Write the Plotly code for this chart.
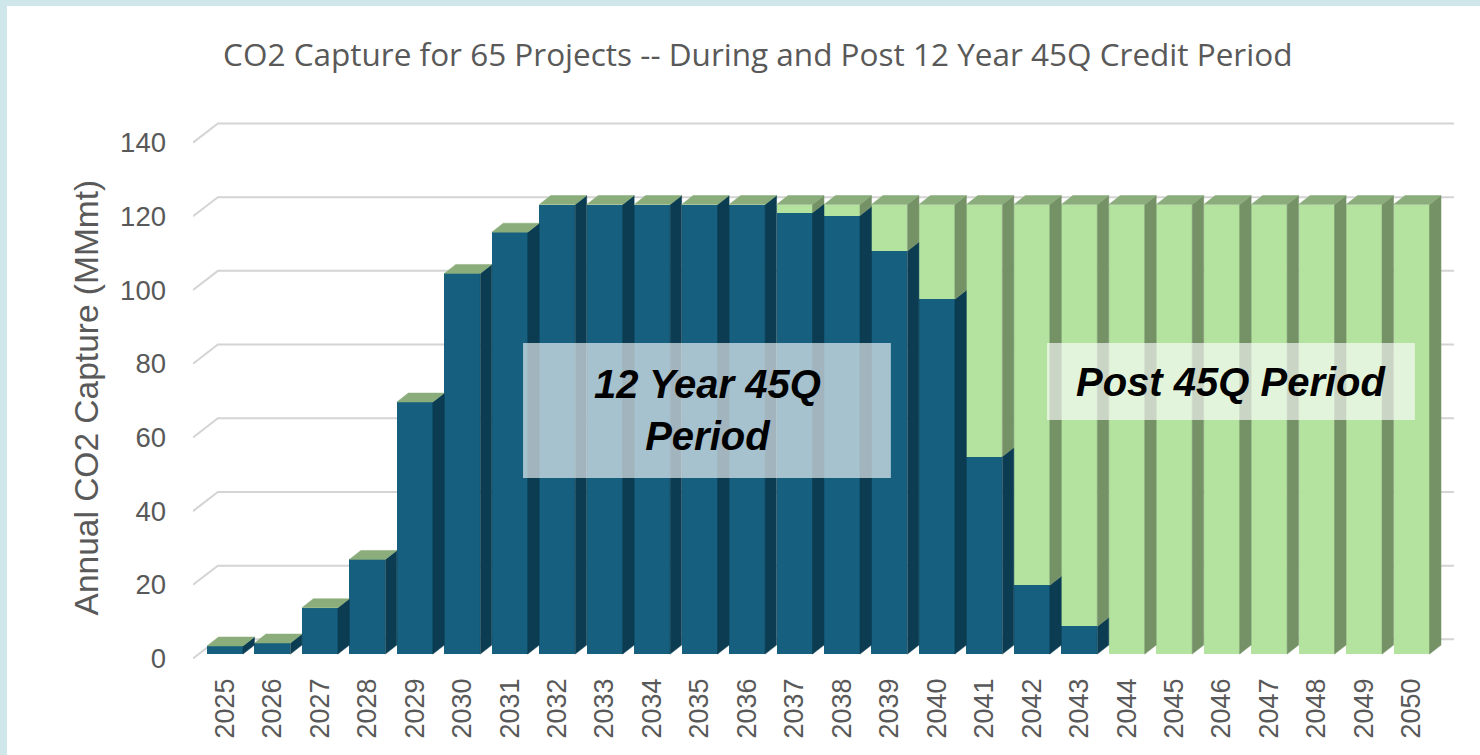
import plotly.graph_objects as go

years = list(range(2025, 2051))
# annual capture still inside the 12 year 45Q window (MMmt)
during_45q = [2.2, 3.0, 12.6, 25.7, 68.4, 103.3, 114.5, 122.0, 122.0, 122.0, 122.0, 122.0,
              119.8, 119.0, 109.4, 96.3, 53.6, 18.7, 7.5, 0, 0, 0, 0, 0, 0, 0]
# capture after the credit period has ended
post_45q = [0, 0, 0, 0, 0, 0, 0, 0, 0, 0, 0, 0,
            2.2, 3.0, 12.6, 25.7, 68.4, 103.3, 114.5, 122.0, 122.0, 122.0, 122.0, 122.0, 122.0, 122.0]
y_ticks = [0, 20, 40, 60, 80, 100, 120, 140]

DARK, DARK_SIDE = '#165f7f', '#0b3c51'
GREEN, GREEN_SIDE = '#b4e3a0', '#759166'
TOP = '#8aad7b'
GREY = '#595959'

W = 0.379            # half width of a bar front
DX, DY = 0.242, 2.44  # fake depth of the 3d columns

pos = list(range(len(years)))
totals = [a + b for a, b in zip(during_45q, post_45q)]


def side_faces(lo, hi):
    xs, ys = [], []
    for i, (a, b) in enumerate(zip(lo, hi)):
        if b <= a:
            continue
        r = i + W
        xs += [r, r + DX, r + DX, r, r, None]
        ys += [a, a + DY, b + DY, b, a, None]
    return xs, ys


def top_faces(h):
    xs, ys = [], []
    for i, t in enumerate(h):
        xs += [i - W, i + W, i + W + DX, i - W + DX, i - W, None]
        ys += [t, t, t + DY, t + DY, t, None]
    return xs, ys


def poly(xy, color):
    return go.Scatter(x=xy[0], y=xy[1], mode='lines', fill='toself', fillcolor=color,
                      line=dict(width=0.5, color=color), hoverinfo='skip', showlegend=False)


fig = go.Figure()
fig.add_trace(go.Bar(x=pos, y=during_45q, width=2 * W, marker=dict(color=DARK, line=dict(width=0)),
                     name='During 45Q', showlegend=False))
fig.add_trace(go.Bar(x=pos, y=post_45q, width=2 * W, marker=dict(color=GREEN, line=dict(width=0)),
                     name='Post 45Q', showlegend=False))
fig.add_trace(poly(side_faces([0] * len(pos), during_45q), DARK_SIDE))
fig.add_trace(poly(side_faces(during_45q, totals), GREEN_SIDE))
fig.add_trace(poly(top_faces(totals), TOP))

# back wall gridlines with the little diagonal to the front plane
x_lo, x_hi = -0.674, 25.895
for v in y_ticks:
    fig.add_shape(type='path', xref='x', yref='y', layer='below',
                  path=f'M {x_lo},{v - 1.2} L -0.15,{v + 4.0} L {x_hi},{v + 4.0}',
                  line=dict(color='#d4d4d4', width=2))

# white card on the light blue background
fig.add_shape(type='rect', xref='paper', yref='paper', layer='below',
              x0=-0.1475, x1=1.03, y0=-0.2, y1=1.168, fillcolor='white', line=dict(width=0))

# period labels
box_style = dict(type='rect', xref='x', yref='y', layer='above',
                 fillcolor='rgba(255,255,255,0.62)', line=dict(width=0))
fig.add_shape(x0=6.28, x1=14.03, y0=47.8, y1=84.4, **box_style)
fig.add_shape(x0=17.32, x1=25.07, y0=63.5, y1=84.4, **box_style)
lab_font = dict(family='Liberation Sans, Arial', size=40, color='black', weight='bold', style='italic')
fig.add_annotation(x=10.16, y=66.2, text='12 Year 45Q<br>Period', showarrow=False, font=lab_font)
fig.add_annotation(x=21.2, y=73.8, text='Post 45Q Period', showarrow=False, font=lab_font)

fig.add_annotation(xref='paper', yref='paper', x=-0.1007, y=0.468, textangle=-90,
                   text='Annual CO2 Capture (MMmt)', showarrow=False,
                   font=dict(family='Liberation Sans, Arial', size=33.5, color=GREY))

fig.update_layout(
    width=1480, height=755,
    margin=dict(l=193, r=26, t=100, b=95),
    paper_bgcolor='#cfe6eb', plot_bgcolor='white',
    barmode='stack', bargap=0,
    title=dict(text='CO2 Capture for 65 Projects -- During and Post 12 Year 45Q Credit Period',
               xref='container', x=0.512, xanchor='center', yref='container', y=0.927, yanchor='middle',
               font=dict(family='Open Sans', size=31.5, color=GREY)),
    xaxis=dict(range=[x_lo, x_hi], tickvals=pos, ticktext=[str(y) for y in years], tickangle=-90,
               showgrid=False, zeroline=False, showline=False, ticks='', ticklabelstandoff=12,
               tickfont=dict(family='Liberation Sans, Arial', size=27, color=GREY)),
    yaxis=dict(range=[-1.6, 150.37], tickvals=[v - 1.2 for v in y_ticks], ticktext=[str(v) for v in y_ticks],
               showgrid=False, zeroline=False, showline=False, ticks='', ticklabelstandoff=26,
               tickfont=dict(family='Liberation Sans, Arial', size=27.5, color=GREY)),
)

fig.write_html('out.html', config={'displayModeBar': False},
               post_script="document.body.style.margin='0';")
